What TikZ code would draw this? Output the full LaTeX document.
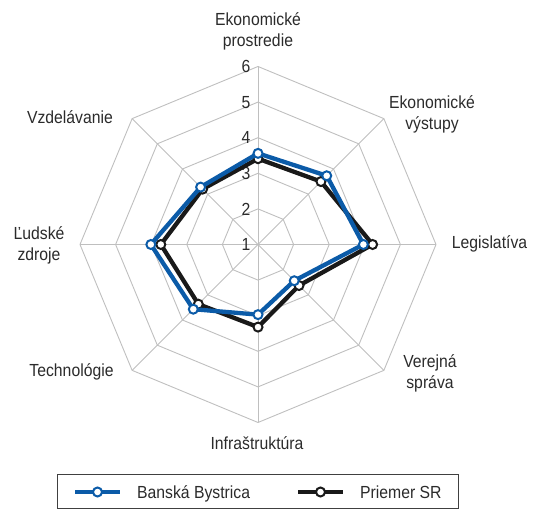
\documentclass[tikz,border=0pt]{standalone}
\usepackage{fontspec}
\setmainfont{Liberation Sans}[FakeStretch=0.9]
\usetikzlibrary{calc}
\definecolor{bbblue}{HTML}{0B5BA8}
\definecolor{gridgray}{HTML}{BFBFBF}
\definecolor{txt}{HTML}{2B2B2B}
\begin{document}
\begin{tikzpicture}[x=1bp,y=1bp,
  grid/.style={draw=gridgray,line width=0.9bp},
  lbl/.style={text=txt,font=\fontsize{17.5bp}{21bp}\selectfont,align=center,inner sep=0},
  num/.style={text=txt,font=\fontsize{17.5bp}{19bp}\selectfont,anchor=east,inner sep=0},
  legtxt/.style={text=txt,font=\fontsize{17.5bp}{21bp}\selectfont,anchor=base west,inner sep=0},
  serBB/.style={draw=bbblue,line width=4.3bp,line join=round},
  serSR/.style={draw=black!90,line width=4.3bp,line join=round},
  mk/.style={circle,fill=white,line width=2bp,minimum size=9bp,inner sep=0}]
\useasboundingbox (0,0) rectangle (537,509);
\def\u{35.6}
\begin{scope}[shift={(258,264.5)}]
  % rings
  \foreach \k in {1,...,5}{
    \draw[grid] (90:\k*\u) -- (45:\k*\u) -- (0:\k*\u) -- (-45:\k*\u) -- (-90:\k*\u)
      -- (-135:\k*\u) -- (180:\k*\u) -- (135:\k*\u) -- cycle;
  }
  % spokes
  \foreach \a in {90,45,0,-45,-90,-135,180,135}
    \draw[grid] (0,0) -- (\a:5*\u);
  % axis numbers
  \foreach \k in {0,...,5}{
    \pgfmathtruncatemacro{\lab}{\k+1}
    \node[num] (n\lab) at (-7.5,\k*\u) {\lab};
  }
  % series coordinates
  \foreach \a/\v [count=\i] in {90/3.41,45/3.50,0/4.22,-45/2.63,-90/3.32,-135/3.37,180/3.73,135/3.20}
    \coordinate (sr\i) at (\a:{(\v-1)*\u});
  \foreach \a/\v [count=\i] in {90/3.56,45/3.73,0/3.96,-45/2.44,-90/2.97,-135/3.57,180/4.01,135/3.28}
    \coordinate (bb\i) at (\a:{(\v-1)*\u});
  \draw[serSR] (sr1) -- (sr2) -- (sr3) -- (sr4) -- (sr5) -- (sr6) -- (sr7) -- (sr8) -- cycle;
  \foreach \i in {1,...,8} \node[mk,draw=black!90] (msr\i) at (sr\i) {};
  \draw[serBB] (bb1) -- (bb2) -- (bb3) -- (bb4) -- (bb5) -- (bb6) -- (bb7) -- (bb8) -- cycle;
  \foreach \i in {1,...,8} \node[mk,draw=bbblue] (mbb\i) at (bb\i) {};
\end{scope}
% category labels
\node[lbl] (l1) at (258,478) {Ekonomické\\prostredie};
\node[lbl] (l2) at (432,395) {Ekonomické\\výstupy};
\node[lbl] (l3) at (489.5,265) {Legislatíva};
\node[lbl] (l4) at (430,136) {Verejná\\správa};
\node[lbl] (l5) at (257,66) {Infraštruktúra};
\node[lbl] (l6) at (71.5,137) {Technológie};
\node[lbl] (l7) at (39,264) {Ľudské\\zdroje};
\node[lbl] (l8) at (70,392) {Vzdelávanie};
% legend
\node[draw=black!75,line width=0.9bp,minimum width=401bp,minimum height=34bp,inner sep=0] (leg) at (257.5,18) {};
\coordinate (lb1) at (75,17);
\coordinate (lb2) at (120,17);
\coordinate (ls1) at (298,17);
\coordinate (ls2) at (343,17);
\draw[serBB] (lb1) -- (lb2);
\node[mk,draw=bbblue] (lbm) at ($(lb1)!0.5!(lb2)$) {};
\node[legtxt] (lbt) at (137,10.8) {Banská Bystrica};
\draw[serSR] (ls1) -- (ls2);
\node[mk,draw=black!90] (lsm) at ($(ls1)!0.5!(ls2)$) {};
\node[legtxt] (lst) at (360,10.8) {Priemer SR};
\end{tikzpicture}
\end{document}
